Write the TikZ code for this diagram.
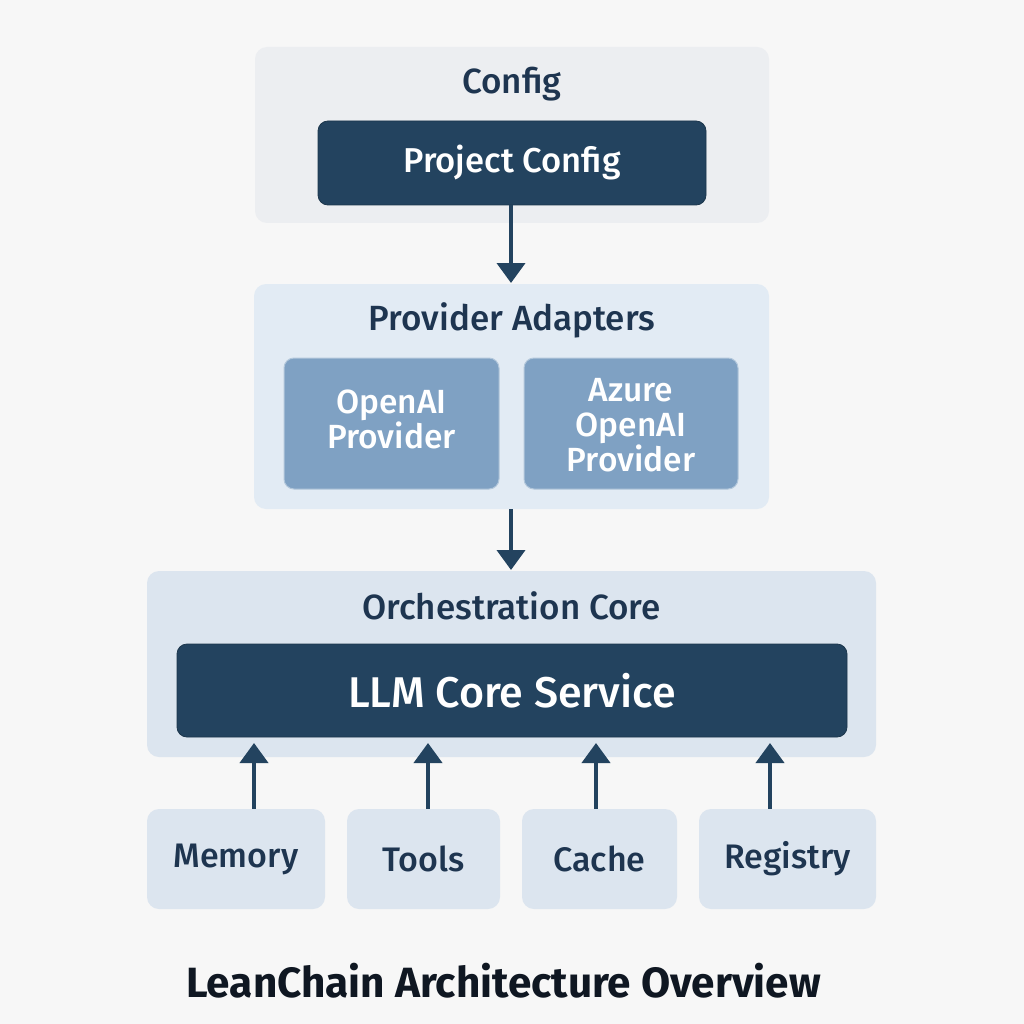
\documentclass[tikz,border=0pt]{standalone}
\usepackage{fontspec}
\setmainfont{Fira Sans}[UprightFont=* Medium, BoldFont=* Bold]
\usetikzlibrary{arrows.meta}
\definecolor{bgc}{HTML}{F7F7F7}
\definecolor{darkbox}{HTML}{23435F}
\definecolor{darktext}{HTML}{1E3550}
\definecolor{cfgfill}{HTML}{ECEEF1}
\definecolor{provfill}{HTML}{E2EBF4}
\definecolor{orchfill}{HTML}{DCE5EF}
\definecolor{midfill}{HTML}{7FA1C3}
\definecolor{titlec}{HTML}{0F1722}
\tikzset{
  group/.style={rounded corners=12pt, inner sep=0pt},
  darkb/.style={fill=darkbox, draw=darkbox!80!black, line width=0.8pt, rounded corners=10pt, text=white, inner sep=0pt},
  midb/.style={fill=midfill, draw=white!40!midfill, line width=1pt, rounded corners=10pt, inner sep=0pt},
  midtext/.style={text=white, inner sep=0pt, align=center, font=\fontsize{33.5}{35}\selectfont},
  leaf/.style={fill=orchfill, rounded corners=12pt, text=darktext, inner sep=0pt, font=\fontsize{34}{36}\selectfont},
  grptitle/.style={text=darktext, inner sep=0pt, font=\fontsize{35}{36}\selectfont},
  conn/.style={draw=darkbox, line width=4pt, -{Triangle[width=28pt,length=20pt]}},
}
\begin{document}
\begin{tikzpicture}[x=1pt,y=-1pt]
\fill[bgc] (0,0) rectangle (1024,1024);
\useasboundingbox (0,0) rectangle (1024,1024);
% Config group
\node[group, fill=cfgfill, minimum width=514pt, minimum height=176pt] (cfg) at (512,135) {};
\node[grptitle] (cfgt) at (512,84) {Config};
\node[darkb, minimum width=388pt, minimum height=84pt, font=\fontsize{34.5}{36}\selectfont] (proj) at (512,163) {Project Config};
% Provider Adapters group
\node[group, fill=provfill, minimum width=515pt, minimum height=225pt] (prov) at (511.5,396.5) {};
\node[grptitle] (provt) at (512,320) {Provider Adapters};
\node[midb, minimum width=215pt, minimum height=131pt] (oai) at (391.5,423.5) {};
\node[midtext] (oait) at (391.5,419) {OpenAI\\Provider};
\node[midb, minimum width=214pt, minimum height=131pt] (azure) at (631,423.5) {};
\node[midtext] (azuret) at (631,425) {Azure\\OpenAI\\Provider};
% Orchestration Core group
\node[group, fill=orchfill, minimum width=729pt, minimum height=186pt] (orch) at (511.5,664) {};
\node[grptitle] (orcht) at (511.5,606) {Orchestration Core};
\node[darkb, minimum width=670pt, minimum height=93pt, font=\fontsize{43}{46}\selectfont] (llm) at (512,690.5) {LLM Core Service};
% Leaves
\node[leaf, minimum width=178pt, minimum height=100pt] (mem) at (236,859) {Memory};
\node[leaf, minimum width=153pt, minimum height=100pt] (tools) at (423.5,859) {Tools};
\node[leaf, minimum width=155pt, minimum height=100pt] (cache) at (599.5,859) {Cache};
\node[leaf, minimum width=177pt, minimum height=100pt] (reg) at (787.5,859) {Registry};
% Connector end points
\coordinate (t1) at (511,283);
\coordinate (t2) at (511,570);
\coordinate (u1) at (254,743);
\coordinate (u2) at (428,743);
\coordinate (u3) at (596,743);
\coordinate (u4) at (770,743);
\draw[conn] (proj.south -| t1) -- (t1);
\draw[conn] (prov.south -| t2) -- (t2);
\draw[conn] (mem.north -| u1) -- (u1);
\draw[conn] (tools.north -| u2) -- (u2);
\draw[conn] (cache.north -| u3) -- (u3);
\draw[conn] (reg.north -| u4) -- (u4);
% Title
\node[text=titlec, inner sep=0pt, font=\fontsize{42.3}{44}\selectfont\bfseries] (title) at (503.5,981) {LeanChain Architecture Overview};
\end{tikzpicture}
\end{document}
